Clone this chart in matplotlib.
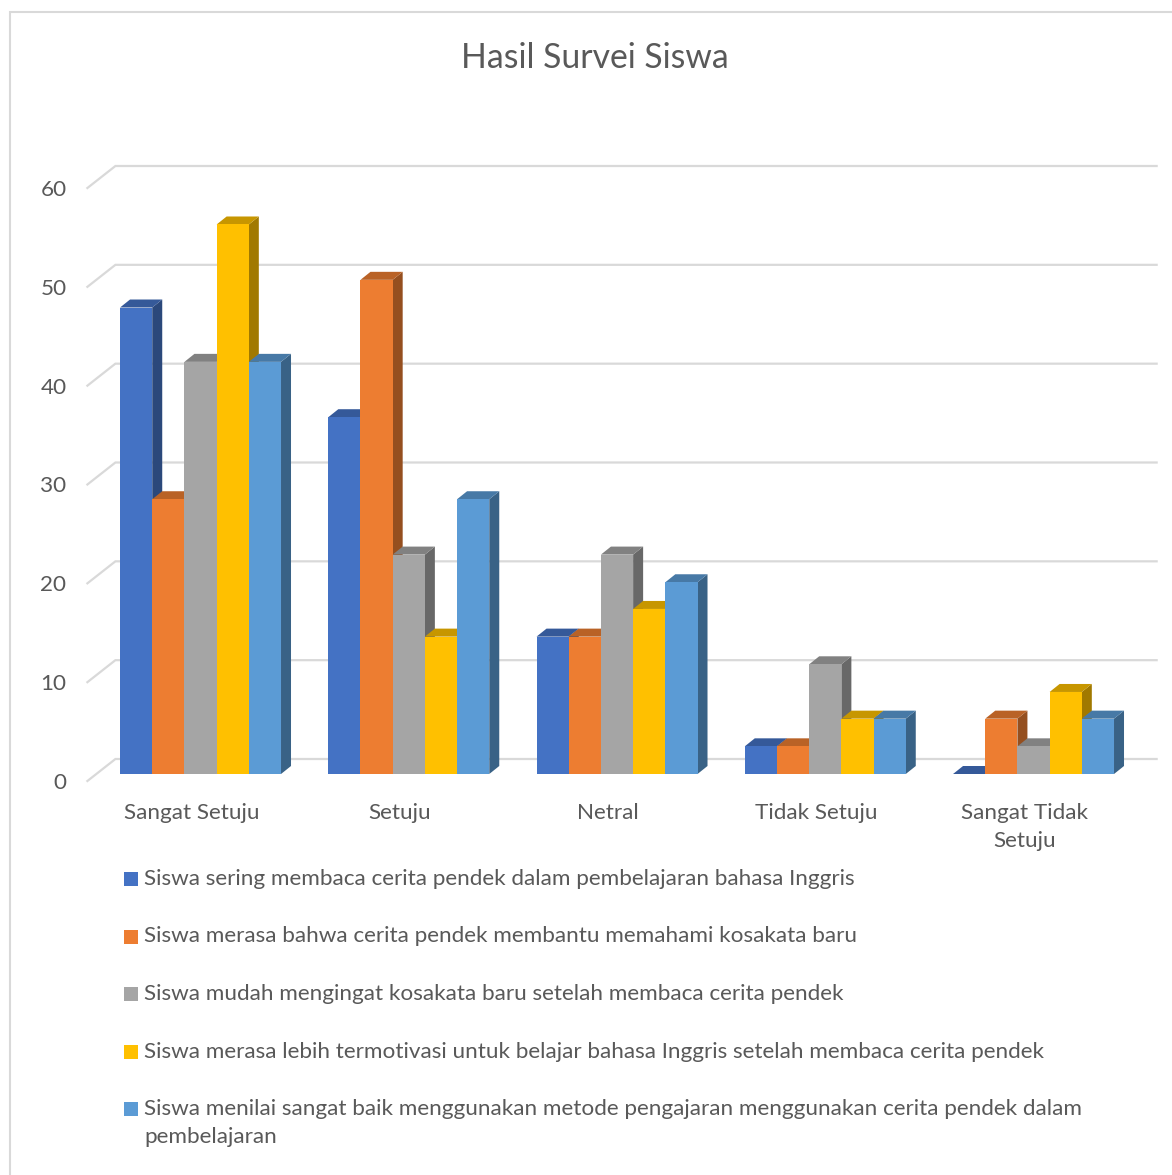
import textwrap

import matplotlib.pyplot as plt
from matplotlib.colors import to_rgb
from matplotlib.patches import Polygon, Rectangle
from matplotlib.transforms import ScaledTranslation

# survey answers in percent of 36 students
categories = ["Sangat Setuju", "Setuju", "Netral", "Tidak Setuju", "Sangat Tidak Setuju"]
series_names = [
    "Siswa sering membaca cerita pendek dalam pembelajaran bahasa Inggris",
    "Siswa merasa bahwa cerita pendek membantu memahami kosakata baru",
    "Siswa mudah mengingat kosakata baru setelah membaca cerita pendek",
    "Siswa merasa lebih termotivasi untuk belajar bahasa Inggris setelah membaca cerita pendek",
    "Siswa menilai sangat baik menggunakan metode pengajaran menggunakan cerita pendek dalam pembelajaran",
]
sering_membaca = [47.2, 36.1, 13.9, 2.8, 0.0]
membantu_kosakata = [27.8, 50.0, 13.9, 2.8, 5.6]
mudah_mengingat = [41.7, 22.2, 22.2, 11.1, 2.8]
lebih_termotivasi = [55.6, 13.9, 16.7, 5.6, 8.3]
menilai_baik = [41.7, 27.8, 19.4, 5.6, 5.6]
y_ticks = [0, 10, 20, 30, 40, 50, 60]

series = [sering_membaca, membantu_kosakata, mudah_mengingat, lebih_termotivasi, menilai_baik]
colors = ["#4472C4", "#ED7D31", "#A5A5A5", "#FFC000", "#5B9BD5"]
TEXT = "#595959"
GRID = "#D9D9D9"
FS = 16.2

plt.rcParams["font.family"] = ["Lato", "DejaVu Sans"]

W, H, DPI = 1172, 1175, 100
fig = plt.figure(figsize=(W / DPI, H / DPI), dpi=DPI)
# front plane of the bars, in pixels: x 96..1138, y 774 (0) .. 181 (60)
ax = fig.add_axes([96.4 / W, (H - 774) / H, 1041.25 / W, 593 / H])
ax.set_xlim(-0.5, len(categories) - 0.5)
ax.set_ylim(0, 60)
ax.axis("off")

# pixels per data unit, used for the fake 3d depth
ppx = 1041.25 / len(categories)
ppy = 593 / 60


def shift(x, y, dx, dy):
    return x + dx / ppx, y + dy / ppy


def offset(dx, dy):
    return ax.transData + ScaledTranslation(dx / DPI, dy / DPI, fig.dpi_scale_trans)


def shade(color, k):
    return tuple(c * k for c in to_rgb(color))


FRONT = (-9, -7)   # floor front edge relative to bar faces
BACK = (19, 15)    # back wall relative to bar faces
DEPTH = (10, 8)    # bar depth

# gridlines on the back wall plus the diagonal on the side
for v in y_ticks:
    x0, y0 = shift(-0.5, v, *FRONT)
    x1, y1 = shift(-0.5, v, *BACK)
    x2, _ = shift(len(categories) - 0.5, v, *BACK)
    ax.plot([x0, x1, x2], [y0, y1, y1], color=GRID, lw=1.6, zorder=1,
            solid_joinstyle="miter", clip_on=False)
    ax.text(-0.5, v, str(v), transform=offset(-30, -9), ha="right", va="center",
            fontsize=FS, color=TEXT)

n = len(series)
bar_w = 0.1546
for j, (vals, col) in enumerate(zip(series, colors)):
    pos = [i + (j - (n - 1) / 2) * bar_w for i in range(len(categories))]
    ax.bar(pos, vals, width=bar_w, color=col, lw=0, zorder=4 + 2 * j)
    for x, h in zip(pos, vals):
        left, right = x - bar_w / 2, x + bar_w / 2
        rb = shift(right, 0, *DEPTH)
        rt = shift(right, h, *DEPTH)
        lt = shift(left, h, *DEPTH)
        ax.add_patch(Polygon([(right, 0), (right, h), rt, rb], closed=True,
                             fc=shade(col, 0.63), lw=0, zorder=3 + 2 * j))
        ax.add_patch(Polygon([(left, h), (right, h), rt, lt], closed=True,
                             fc=shade(col, 0.78), lw=0, zorder=3 + 2 * j))

for i, cat in enumerate(categories):
    ax.text(i, 0, textwrap.fill(cat, 13), transform=offset(-9, -29), ha="center",
            va="top", fontsize=FS, color=TEXT, linespacing=1.48)

fig.text(595 / W, 1 - 58 / H, "Hasil Survei Siswa", ha="center", va="center",
         fontsize=24.3, color=TEXT)

# legend, one entry per row
for j, (name, col) in enumerate(zip(series_names, colors)):
    cy = 879 + j * 57.5
    fig.patches.append(Rectangle((124 / W, 1 - (cy + 7) / H), 14 / W, 14 / H,
                                 transform=fig.transFigure, fc=col, lw=0))
    fig.text(144 / W, 1 - (cy - 10) / H, textwrap.fill(name, 89), ha="left", va="top",
             fontsize=FS, color=TEXT, linespacing=1.48)

# chart border
fig.patches.append(Rectangle((10 / W, -0.05), 1.2, 1.05 - 12 / H, transform=fig.transFigure,
                             fill=False, ec=GRID, lw=1.5))

fig.savefig("out.png", dpi=DPI)
